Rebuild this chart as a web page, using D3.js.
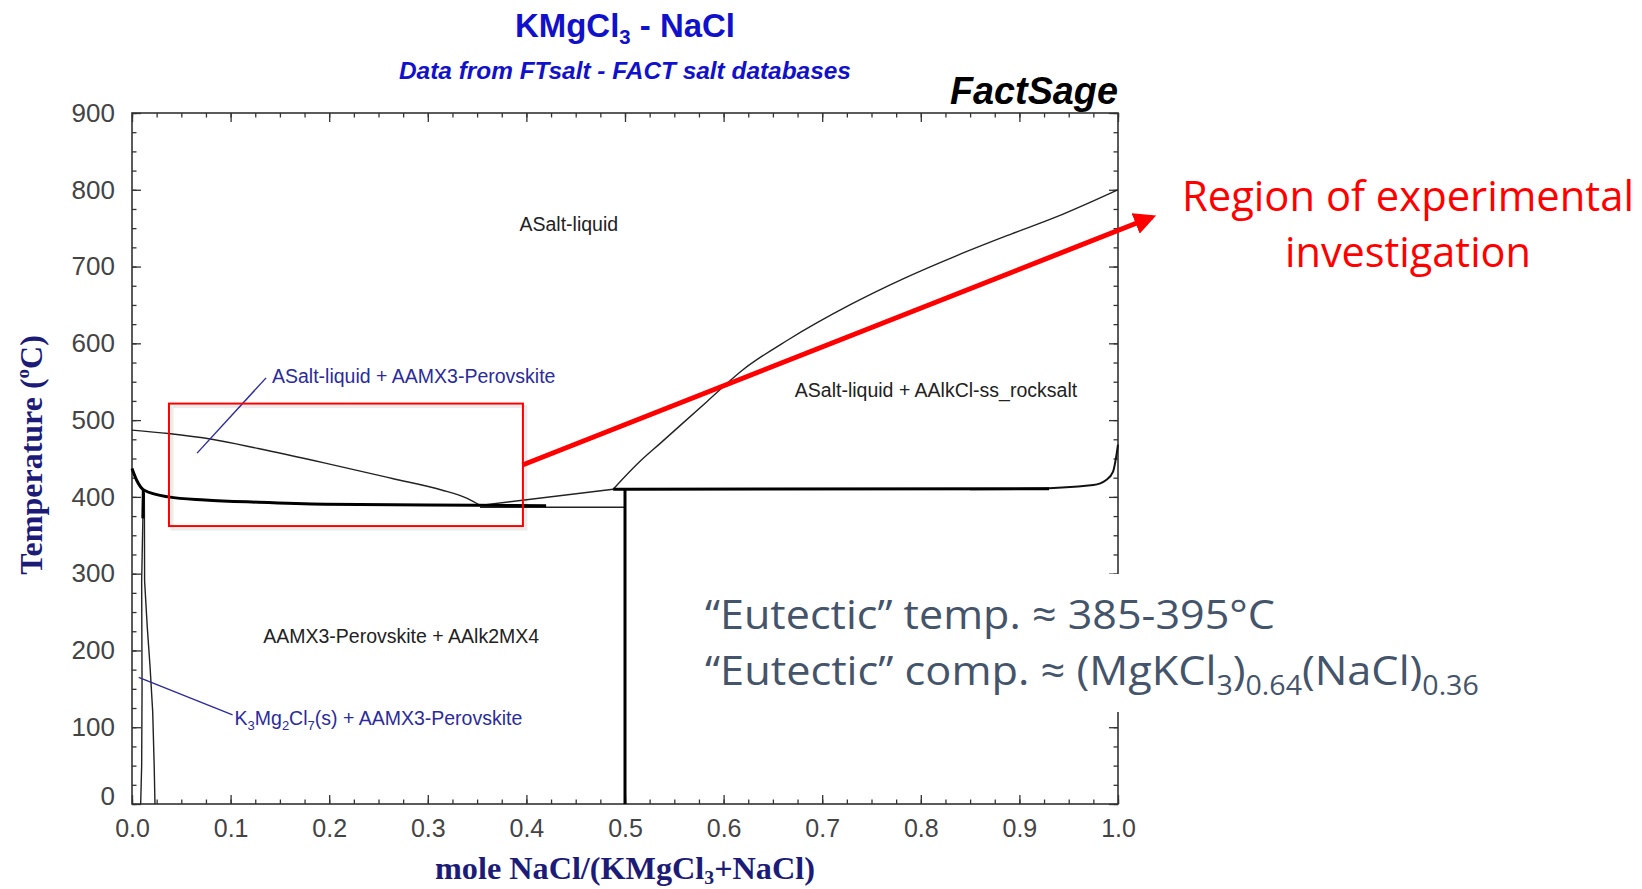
<!DOCTYPE html>
<html>
<head>
<meta charset="utf-8">
<script src="https://cdn.jsdelivr.net/npm/d3@7"></script>
<style>
  body { margin: 0; background: #fff; }
  svg { display: block; }
</style>
</head>
<body>
<svg width="1642" height="889"></svg>
<script>
// tick labels
const xTickValues = [0, 0.1, 0.2, 0.3, 0.4, 0.5, 0.6, 0.7, 0.8, 0.9, 1.0];
const tempTickValues = [0, 100, 200, 300, 400, 500, 600, 700, 800, 900];

// phase boundaries, [mole fraction NaCl, T in C]
const liquidusKMgCl3 = [[0, 487], [0.037, 482.5], [0.081, 475], [0.128, 463], [0.196, 444], [0.264, 424], [0.314, 409], [0.34, 398], [0.353, 389]];
const liquidusEutToPeri = [[0.353, 389], [0.488, 410]];
const liquidusNaCl = [[0.488, 410], [0.515, 446], [0.536, 470], [0.583, 524], [0.619, 565], [0.666, 605], [0.728, 650], [0.782, 684], [0.836, 714], [0.891, 742], [0.938, 765], [0.974, 785], [1.0, 800]];
const solidusLeft = [[0, 437], [0.005, 421], [0.012, 409], [0.037, 400], [0.074, 396], [0.128, 393], [0.196, 390.5], [0.35, 389], [0.42, 388.5]];
const eutecticLower = [[0.353, 386.5], [0.5, 386.5]];
const peritecticLine = [[0.488, 410], [0.5, 410], [0.93, 410.5]];
const solidusNaCl = [[0.85, 410], [0.907, 410.5], [0.975, 415.5], [0.988, 422], [0.995, 433], [0.9985, 455], [1.0, 468]];
const compoundLine = [[0.5, 410], [0.5, 0]];
const k3ThickTop = [[0.0115, 409], [0.011, 372]];
const k3LeftBoundary = [[0.0115, 409], [0.011, 370], [0.0098, 290], [0.0102, 150], [0.0098, 50], [0.0088, 0]];
const k3RightBoundary = [[0.0125, 405], [0.0128, 290], [0.0155, 230], [0.0183, 179], [0.021, 120], [0.0225, 50], [0.0233, 0]];

// annotation geometry in data units
const leaderLiquidPerov = [[0.066, 457], [0.136, 555]];
const leaderK3 = [[0.0068, 165], [0.102, 116]];
const regionBox = [[0.0375, 521.5], [0.3965, 362]];
const regionArrow = [[0.396, 441.5], [1.0345, 764.5]];

const svg = d3.select('svg');
const width = +svg.attr('width');
const height = +svg.attr('height');

svg.append('rect').attr('width', width).attr('height', height).attr('fill', '#fff');

const x = d3.scaleLinear().domain([0, 1]).range([132, 1118]);
const y = d3.scaleLinear().domain([0, 900]).range([804, 113]);

const sans = '"Liberation Sans", Arial, sans-serif';
const serif = '"Liberation Serif", "Times New Roman", serif';
const office = '"Open Sans", "Noto Sans", sans-serif';

// ticks, all inward
const xMinor = d3.range(0, 1.0001, 0.025);
const yMinor = d3.range(0, 900.1, 25);

const addAxis = (axisFn, scale, values, size, translate, labels) => {
  const a = axisFn(scale).tickValues(values).tickSizeInner(-size).tickSizeOuter(0);
  if (labels) a.tickPadding(15).tickFormat(labels);
  else a.tickFormat('');
  const g = svg.append('g').attr('transform', translate).call(a);
  g.select('.domain').remove();
  g.selectAll('.tick line').attr('stroke', '#333').attr('stroke-width', 1.3);
  return g;
};

addAxis(d3.axisBottom, x, xMinor, 4.5, `translate(0,${y(0)})`);
addAxis(d3.axisTop, x, xMinor, 4.5, `translate(0,${y(900)})`);
addAxis(d3.axisLeft, y, yMinor, 4.5, `translate(${x(0)},0)`);
addAxis(d3.axisRight, y, yMinor, 4.5, `translate(${x(1)},0)`);

const xAx = addAxis(d3.axisBottom, x, xTickValues, 9, `translate(0,${y(0)})`, d3.format('.1f'));
addAxis(d3.axisTop, x, xTickValues, 9, `translate(0,${y(900)})`);
const yAx = addAxis(d3.axisLeft, y, tempTickValues, 9, `translate(${x(0)},0)`, d3.format('d'));
addAxis(d3.axisRight, y, tempTickValues, 9, `translate(${x(1)},0)`);

xAx.selectAll('.tick text')
  .attr('font-family', sans).attr('font-size', 25).attr('fill', '#444');
yAx.selectAll('.tick text')
  .attr('font-family', sans).attr('font-size', 26).attr('fill', '#444')
  .attr('x', -17);
// the zero label sits a little higher, clear of the x labels
yAx.selectAll('.tick').filter(d => d === 0).select('text').attr('y', -8);

svg.append('rect')
  .attr('x', x(0)).attr('y', y(900))
  .attr('width', x(1) - x(0)).attr('height', y(0) - y(900))
  .attr('fill', 'none').attr('stroke', '#333').attr('stroke-width', 1.6);

// phase boundaries
const line = d3.line().x(d => x(d[0])).y(d => y(d[1]));
const smooth = d3.line().x(d => x(d[0])).y(d => y(d[1])).curve(d3.curveMonotoneX);

const plot = svg.append('g').attr('fill', 'none').attr('stroke-linejoin', 'round');

plot.append('path').attr('d', smooth(liquidusKMgCl3)).attr('stroke', '#222').attr('stroke-width', 1.4);
plot.append('path').attr('d', line(liquidusEutToPeri)).attr('stroke', '#222').attr('stroke-width', 1.4);
plot.append('path').attr('d', smooth(liquidusNaCl)).attr('stroke', '#222').attr('stroke-width', 1.4);
plot.append('path').attr('d', line(eutecticLower)).attr('stroke', '#222').attr('stroke-width', 1.4);
plot.append('path').attr('d', smooth(solidusNaCl)).attr('stroke', '#111').attr('stroke-width', 2);
plot.append('path').attr('d', line(k3LeftBoundary)).attr('stroke', '#222').attr('stroke-width', 1.4);
plot.append('path').attr('d', line(k3RightBoundary)).attr('stroke', '#222').attr('stroke-width', 1.4);

plot.append('path').attr('d', smooth(solidusLeft)).attr('stroke', '#000').attr('stroke-width', 3);
plot.append('path').attr('d', line(peritecticLine)).attr('stroke', '#000').attr('stroke-width', 3);
plot.append('path').attr('d', line(compoundLine)).attr('stroke', '#000').attr('stroke-width', 3);
plot.append('path').attr('d', line(k3ThickTop)).attr('stroke', '#000').attr('stroke-width', 3);

// leader lines
const blue = '#2b2b9c';
plot.append('path').attr('d', line(leaderLiquidPerov)).attr('stroke', blue).attr('stroke-width', 1.4);
plot.append('path').attr('d', line(leaderK3)).attr('stroke', blue).attr('stroke-width', 1.4);

// region labels
const label = (txt, xv, tv, anchor, color) => svg.append('text')
  .attr('x', x(xv)).attr('y', y(tv))
  .attr('text-anchor', anchor)
  .attr('font-family', sans).attr('font-size', 19.5)
  .attr('fill', color).text(txt);

label('ASalt-liquid', 0.443, 746, 'middle', '#222');
label('ASalt-liquid + AAlkCl-ss_rocksalt', 0.8154, 530, 'middle', '#222');
label('AAMX3-Perovskite + AAlk2MX4', 0.273, 210, 'middle', '#222');
label('ASalt-liquid + AAMX3-Perovskite', 0.142, 548, 'start', blue);

const k3 = svg.append('text')
  .attr('x', x(0.104)).attr('y', y(103))
  .attr('font-family', sans).attr('font-size', 19.5).attr('fill', blue);
k3.append('tspan').text('K');
k3.append('tspan').attr('font-size', 13).attr('dy', 5).text('3');
k3.append('tspan').attr('dy', -5).text('Mg');
k3.append('tspan').attr('font-size', 13).attr('dy', 5).text('2');
k3.append('tspan').attr('dy', -5).text('Cl');
k3.append('tspan').attr('font-size', 13).attr('dy', 5).text('7');
k3.append('tspan').attr('dy', -5).text('(s) + AAMX3-Perovskite');

// fit a text element to a given width, like a narrow office font
const fitWidth = (sel, x0, y0, w, anchor) => {
  const bw = sel.node().getBBox().width;
  const s = w / bw;
  const dx = anchor === 'middle' ? -w / 2 : 0;
  sel.attr('transform', `translate(${x0 + dx},${y0}) scale(${s},1)`);
};

// titles
const title = svg.append('text')
  .attr('x', 0).attr('y', 0)
  .attr('font-family', sans).attr('font-weight', 'bold').attr('font-size', 34)
  .attr('fill', '#1111cc');
title.append('tspan').text('KMgCl');
title.append('tspan').attr('font-size', 21).attr('dy', 7).text('3');
title.append('tspan').attr('dy', -7).text(' - NaCl');
fitWidth(title, 625, 37, 220, 'middle');

const sub = svg.append('text')
  .attr('x', 0).attr('y', 0)
  .attr('font-family', sans).attr('font-weight', 'bold').attr('font-style', 'italic')
  .attr('font-size', 23).attr('fill', '#1111cc')
  .text('Data from FTsalt - FACT salt databases');
fitWidth(sub, 625, 79, 452, 'middle');

const fs = svg.append('text')
  .attr('x', 0).attr('y', 0)
  .attr('font-family', sans).attr('font-weight', 'bold').attr('font-style', 'italic')
  .attr('font-size', 39).attr('fill', '#000')
  .text('FactSage');
fitWidth(fs, 950, 104, 168, 'start');

const navy = '#1c1c78';
const xTitle = svg.append('text')
  .attr('x', 0).attr('y', 0)
  .attr('font-family', serif).attr('font-weight', 'bold').attr('font-size', 31)
  .attr('fill', navy);
xTitle.append('tspan').text('mole NaCl/(KMgCl');
xTitle.append('tspan').attr('font-size', 19).attr('dy', 5).text('3');
xTitle.append('tspan').attr('dy', -5).text('+NaCl)');
fitWidth(xTitle, 625, 879, 380, 'middle');

const yTitle = svg.append('text')
  .attr('transform', 'translate(42,455) rotate(-90)').attr('text-anchor', 'middle')
  .attr('font-family', serif).attr('font-weight', 'bold').attr('font-size', 32)
  .attr('fill', navy);
yTitle.append('tspan').text('Temperature (');
yTitle.append('tspan').attr('font-size', 19).attr('dy', -13).text('o');
yTitle.append('tspan').attr('dy', 13).text('C)');

// red annotation
const red = '#ff0000';
svg.append('rect')
  .attr('x', x(regionBox[0][0]) + 3).attr('y', y(regionBox[0][1]) + 3)
  .attr('width', x(regionBox[1][0]) - x(regionBox[0][0]))
  .attr('height', y(regionBox[1][1]) - y(regionBox[0][1]))
  .attr('fill', 'none').attr('stroke', 'rgba(0,0,0,0.08)').attr('stroke-width', 3);
svg.append('rect')
  .attr('x', x(regionBox[0][0])).attr('y', y(regionBox[0][1]))
  .attr('width', x(regionBox[1][0]) - x(regionBox[0][0]))
  .attr('height', y(regionBox[1][1]) - y(regionBox[0][1]))
  .attr('fill', 'none').attr('stroke', red).attr('stroke-width', 2);

svg.append('defs').append('marker')
  .attr('id', 'head').attr('viewBox', '0 0 10 10')
  .attr('refX', 8).attr('refY', 5)
  .attr('markerWidth', 4.4).attr('markerHeight', 4.4)
  .attr('markerUnits', 'strokeWidth').attr('orient', 'auto')
  .append('path').attr('d', 'M0,0 L10,5 L0,10 Z').attr('fill', red);

svg.append('path')
  .attr('d', line(regionArrow))
  .attr('stroke', red).attr('stroke-width', 5).attr('fill', 'none')
  .attr('marker-end', 'url(#head)');

const redText = (txt, cy, w) => {
  const t = svg.append('text').attr('x', 0).attr('y', 0)
    .attr('font-family', office).attr('font-size', 42).attr('fill', red).text(txt);
  fitWidth(t, 1408, cy, w, 'middle');
};
redText('Region of experimental', 211, 452);
redText('investigation', 267, 246);

// eutectic note on a white patch
svg.append('rect').attr('x', 696).attr('y', 574).attr('width', 791).attr('height', 138).attr('fill', '#fff');
const gray = '#44546a';
const e1 = svg.append('text').attr('x', 0).attr('y', 0)
  .attr('font-family', office).attr('font-size', 41).attr('fill', gray)
  .text('\u201CEutectic\u201D temp. \u2248 385-395\u00B0C');
fitWidth(e1, 705, 629, 570, 'start');

const e2 = svg.append('text').attr('x', 0).attr('y', 0)
  .attr('font-family', office).attr('font-size', 41).attr('fill', gray);
e2.append('tspan').text('\u201CEutectic\u201D comp. \u2248 (MgKCl');
e2.append('tspan').attr('font-size', 27).attr('dy', 10).text('3');
e2.append('tspan').attr('dy', -10).text(')');
e2.append('tspan').attr('font-size', 27).attr('dy', 10).text('0.64');
e2.append('tspan').attr('dy', -10).text('(NaCl)');
e2.append('tspan').attr('font-size', 27).attr('dy', 10).text('0.36');
fitWidth(e2, 705, 685, 774, 'start');
</script>
</body>
</html>
